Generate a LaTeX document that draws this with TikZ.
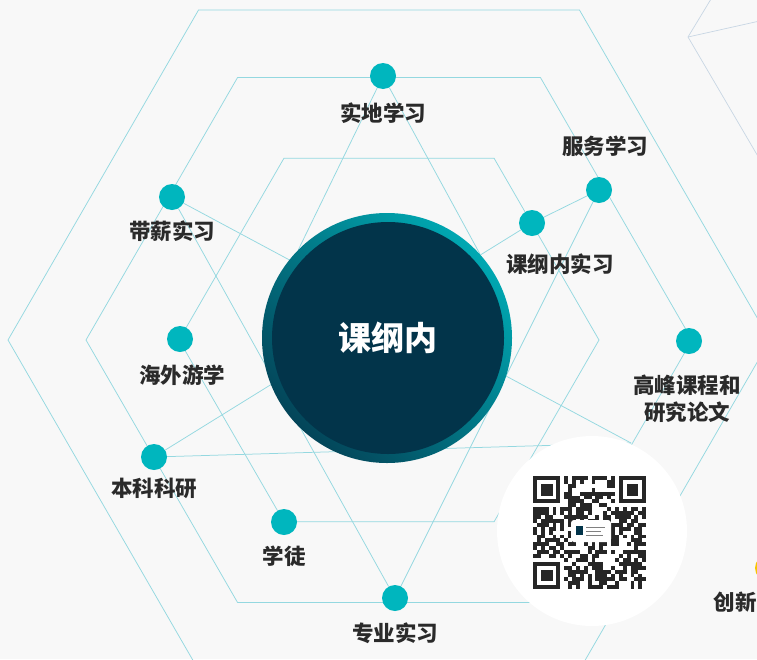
\documentclass[tikz,border=0pt]{standalone}
\usepackage{fontspec}
\setmainfont{Noto Sans CJK SC}
\usepackage{tikz}
\usetikzlibrary{positioning}
\usetikzlibrary{backgrounds}
\definecolor{bgcol}{HTML}{F8F8F8}
\definecolor{linecol}{HTML}{94D8E0}
\definecolor{hexgray}{HTML}{C8D6E4}
\definecolor{dotcol}{HTML}{00B6BE}
\definecolor{navy}{HTML}{02344A}
\definecolor{ringhi}{HTML}{00A8B2}
\definecolor{ringlo}{HTML}{034559}
\definecolor{txtcol}{HTML}{2A2A2A}
\definecolor{goldcol}{HTML}{F7C600}

\begin{document}
\begin{tikzpicture}[x=1pt, y=-1pt,
	bullet/.style={circle, fill=dotcol, minimum size=26pt, inner sep=0pt},
	tagtext/.style={font=\fontsize{21.5}{27}\selectfont\bfseries, text=txtcol, inner sep=0pt, align=center},
	connect/.style={draw=linecol, line width=0.75pt}]
	\useasboundingbox (0,0) rectangle (757,659);
	\clip (0,0) rectangle (757,659);

	% centre
	\node[circle, minimum size=250pt, inner sep=0pt, top color=ringhi, bottom color=ringlo, shading angle=-45] (ring) at (387,338) {};
	\node[circle, fill=navy, minimum size=232pt, inner sep=0pt, text=white, font=\fontsize{33}{36}\selectfont\bfseries] (core) at (388,338) {课纲内};

	% dots
	\node[bullet] (shidi) at (383,76) {};
	\node[bullet] (daixin) at (172,197) {};
	\node[bullet] (haiwai) at (180,339) {};
	\node[bullet] (benke) at (154,457) {};
	\node[bullet] (xuetu) at (284,522) {};
	\node[bullet] (zhuanye) at (395,598) {};
	\node[bullet] (kegang) at (532,223) {};
	\node[bullet] (fuwu) at (599,190) {};
	\node[bullet] (gaofeng) at (689,341) {};
	\node[bullet, fill=goldcol] (chuangxin) at (768,568) {};
	\coordinate (jn) at (631,443);

	% labels
	\node[tagtext, below=13pt of shidi] (shidi-t) {实地学习};
	\node[tagtext, below=10pt of daixin] (daixin-t) {带薪实习};
	\node[tagtext, below=12pt of haiwai, xshift=2pt] (haiwai-t) {海外游学};
	\node[tagtext, below=8pt of benke] (benke-t) {本科科研};
	\node[tagtext, below=10pt of xuetu] (xuetu-t) {学徒};
	\node[tagtext, below=11pt of zhuanye] (zhuanye-t) {专业实习};
	\node[tagtext, below=17pt of kegang, xshift=28pt] (kegang-t) {课纲内实习};
	\node[tagtext, above=20pt of fuwu, xshift=6pt] (fuwu-t) {服务学习};
	\node[tagtext, below=21pt of gaofeng, xshift=-2pt] (gaofeng-t) {高峰课程和\\研究论文};
	\node[tagtext, below=11pt of chuangxin, xshift=-33pt] (chuangxin-t) {创新};

	% qr code
	\node[circle, fill=white, minimum size=190pt, inner sep=0pt] (qrdisc) at (592,531) {};
	\pgfmathsetseed{2024}
	\foreach \i in {0,...,28}
		\foreach \j in {0,...,28}{
			\pgfmathrandominteger{\bit}{0}{99}
			\ifnum\bit<56
				\fill[black!85] (533+3.9*\i,476+3.9*\j) rectangle ++(3.9,3.9);
			\fi
		}
	\foreach \fx/\fy in {0/0,22/0,0/22}{
		\fill[white] (529.1+3.9*\fx,472.1+3.9*\fy) rectangle ++(35.1,35.1);
		\fill[black!85] (533+3.9*\fx,476+3.9*\fy) rectangle ++(27.3,27.3);
		\fill[white] (536.9+3.9*\fx,479.9+3.9*\fy) rectangle ++(19.5,19.5);
		\fill[black!85] (540.8+3.9*\fx,483.8+3.9*\fy) rectangle ++(11.7,11.7);
	}
	\fill[white, rounded corners=3pt] (571,520) rectangle (611,542);
	\fill[navy] (576,526) rectangle (583,535);
	\draw[gray, line width=0.6pt] (586,527) -- (605,527) (586,531) -- (601,531) (586,535) -- (603,535);

	\begin{pgfonlayer}{background}
		\fill[bgcol] (0,0) rectangle (757,659);
		\foreach \s in {210,303,381}
			\draw[connect] (389+\s,340) -- (389+\s/2,340-0.866*\s) -- (389-\s/2,340-0.866*\s) -- (389-\s,340) -- (389-\s/2,340+0.866*\s) -- (389+\s/2,340+0.866*\s) -- cycle;
		\draw[hexgray, line width=0.7pt] (711,-1) -- (688,37) -- (800,228);
		\draw[hexgray, line width=0.7pt] (688,37) -- (800,12);
		\draw[connect] (daixin) -- (jn);
		\draw[connect] (benke) -- (jn);
		\draw[connect] (daixin) -- (zhuanye);
		\draw[connect] (fuwu) -- (zhuanye);
		\draw[connect] (benke) -- (kegang) -- (fuwu);
		\draw[connect] (shidi) -- (ring.135);
		\draw[connect] (shidi) -- (ring.42);
	\end{pgfonlayer}
\end{tikzpicture}
\end{document}
